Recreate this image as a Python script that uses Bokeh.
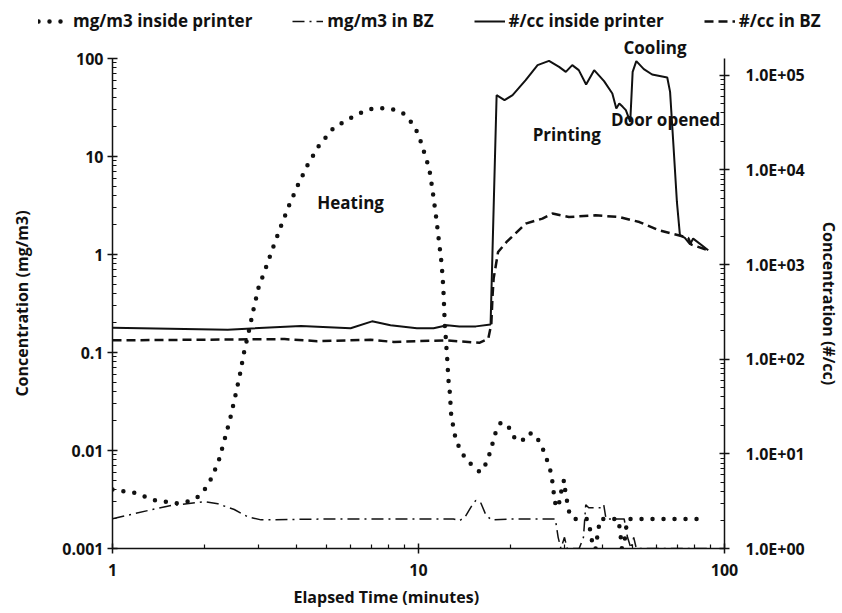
from bokeh.plotting import figure
from bokeh.layouts import column
from bokeh.models import (LogAxis, Range1d, LogScale, FixedTicker, CustomJSTickFormatter,
                          Legend, LegendItem, Label, Title)
from bokeh.embed import file_html
from bokeh.resources import INLINE

# ---------------- data ----------------
# mg/m3 inside printer (left axis)
t_mass_in = [1.0, 1.18, 1.38, 1.62, 1.75, 1.89, 2.0, 2.09, 2.16, 2.23, 2.33, 2.43, 2.52, 2.61,
             2.69, 2.79, 2.89, 3.0, 3.18, 3.36, 3.56, 3.78, 4.04, 4.35, 4.73, 5.25, 5.63, 6.05,
             6.52, 7.05, 7.66, 8.31, 8.94, 9.47, 9.88, 10.19, 10.45, 10.71, 10.92, 11.18, 11.43,
             11.65, 11.88, 11.96, 12.03, 12.08, 12.12, 12.16, 12.2, 12.29, 12.35, 12.43, 12.48,
             12.55, 12.67, 12.73, 12.8, 13.0, 13.2, 13.6, 14.2, 15.0, 15.9, 16.6, 17.1, 17.5,
             17.9, 18.6, 19.7, 20.5, 21.7, 22.8, 24.0, 25.1, 25.9, 26.6, 27.2, 27.5, 27.9, 28.3,
             28.9, 29.5, 29.9, 30.2, 30.6, 31.0, 32.0, 34.0, 35.5, 36.5, 37.2, 37.9, 38.5, 39.2,
             42.0, 44.8, 45.5, 46.2, 47.0, 47.8, 48.5, 55.0, 65.0, 75.0, 87.5]
mass_in = [0.0040, 0.0037, 0.0031, 0.0029, 0.0030, 0.0033, 0.0040, 0.0050, 0.0063, 0.0081,
           0.0133, 0.0218, 0.036, 0.060, 0.100, 0.165, 0.276, 0.457, 0.75, 1.22, 1.98, 3.19,
           5.14, 8.3, 12.9, 19.2, 22.1, 25.0, 28.1, 30.7, 31.1, 30.2, 27.3, 22.4, 18.0, 14.0,
           10.9, 8.5, 6.6, 3.94, 2.35, 1.41, 0.84, 0.65, 0.50, 0.39, 0.30, 0.23, 0.178, 0.138,
           0.107, 0.081, 0.064, 0.049, 0.038, 0.029, 0.022, 0.0174, 0.0135, 0.0106, 0.0084,
           0.0070, 0.0060, 0.0073, 0.0094, 0.0121, 0.0156, 0.0194, 0.0174, 0.0137, 0.0123,
           0.0151, 0.0147, 0.0116, 0.0092, 0.0072, 0.0057, 0.0043, 0.0030, 0.0026, 0.0030,
           0.0044, 0.0050, 0.0038, 0.0030, 0.0024, 0.0020, 0.0020, 0.0020, 0.0015, 0.0010,
           0.0010, 0.0014, 0.0020, 0.0020, 0.0020, 0.0016, 0.0010, 0.0011, 0.0017, 0.0020,
           0.0020, 0.0020, 0.0020, 0.0020]

# mg/m3 in BZ (left axis)
t_mass_bz = [1.0, 1.38, 1.56, 2.0, 2.21, 2.5, 2.77, 3.06, 5.0, 8.0, 11.0, 13.0, 13.6, 14.2,
             15.0, 15.4, 16.0, 16.6, 17.3, 20.0, 25.0, 28.0, 28.6, 29.2, 30.0, 30.6, 33.5, 34.6,
             35.2, 36.0, 39.5, 40.3, 41.0, 44.0, 47.0, 48.2, 49.5, 50.5, 51.5, 60.0, 70.0, 88.0]
mass_bz = [0.00201, 0.00254, 0.00275, 0.0030, 0.00286, 0.0025, 0.0021, 0.00196, 0.0020, 0.0020,
           0.0020, 0.0020, 0.00192, 0.0021, 0.0028, 0.0031, 0.0029, 0.0022, 0.00196, 0.0020,
           0.0020, 0.0020, 0.0013, 0.0010, 0.0013, 0.0010, 0.0010, 0.0013, 0.0028, 0.0026,
           0.0026, 0.0028, 0.0020, 0.0020, 0.0020, 0.0013, 0.0010, 0.0013, 0.0010, 0.0010,
           0.0010, 0.0010]

# #/cc inside printer (right axis)
t_num_in = [1.0, 2.38, 4.13, 6.0, 7.05, 8.1, 9.88, 11.2, 12.4, 13.6, 15.4, 17.2, 18.0, 19.1,
            20.3, 22.4, 24.5, 26.7, 28.8, 30.3, 31.8, 33.4, 35.3, 37.5, 40.4, 43.0, 44.3, 45.3,
            46.5, 47.6, 49.2, 50.1, 51.5, 54.5, 58.0, 65.0, 66.4, 68.1, 69.9, 71.5, 74.2, 77.2,
            79.0, 88.5]
num_in = [215, 205, 224, 212, 251, 228, 212, 212, 228, 222, 222, 232, 61500, 54400, 61500,
          88500, 127600, 141700, 122500, 108400, 127600, 113000, 79800, 113000, 86500, 64100,
          44500, 50200, 46300, 42700, 32100, 108400, 140600, 115700, 101600, 94600, 66700,
          18200, 4580, 2040, 1906, 1634, 1878, 1413]

# #/cc in BZ (right axis)
t_num_bz = [1.0, 3.65, 4.67, 6.97, 8.3, 9.87, 12.3, 15.8, 16.9, 17.3, 17.45, 17.6, 18.2, 19.4,
            22.4, 25.4, 27.4, 31.0, 37.9, 45.2, 52.7, 60.9, 70.7, 76.1, 77.9, 88.5]
num_bz = [158, 163, 155, 160, 152, 155, 158, 149, 164, 237, 454, 710, 1355, 1730, 2700, 3055,
          3450, 3175, 3310, 3175, 2810, 2300, 2040, 1906, 1620, 1413]

x_major = [1, 10, 100]
y_left_major = [0.001, 0.01, 0.1, 1, 10, 100]
y_right_major = [1, 10, 100, 1000, 10000, 100000]
series_labels = ["mg/m3 inside printer", "mg/m3 in BZ", "#/cc inside printer", "#/cc in BZ"]

FONT = "Open Sans"
INK = "#111111"
TOP_H = 33

STYLES = [dict(line_width=4.5, line_dash="0 11", line_cap="round"),
          dict(line_width=1.5, line_dash="12 5 2 5"),
          dict(line_width=2),
          dict(line_width=2.5, line_dash="9 5")]

series = [(t_mass_in, mass_in, "default"), (t_mass_bz, mass_bz, "default"),
          (t_num_in, num_in, "cc"), (t_num_bz, num_bz, "cc")]

# ---------------- legend strip (top) ----------------
# The same series are drawn here far outside the visible window, only so the
# legend can show their line styles.
top = figure(width=842, height=TOP_H, x_range=Range1d(0, 842),
             y_range=Range1d(-1e7, -1e7 + TOP_H),
             output_backend="svg", toolbar_location=None,
             x_axis_location=None, y_axis_location=None,
             min_border_left=0, min_border_right=0, min_border_top=0, min_border_bottom=0)
top.frame_align = False
top.grid.visible = False
top.outline_line_color = None
legend_renderers = [top.line(tx, vy, line_color=INK, **st) for (tx, vy, _), st in zip(series, STYLES)]
legend = Legend(items=[LegendItem(label=lab, renderers=[r])
                       for lab, r in zip(series_labels, legend_renderers)],
                orientation="horizontal", location=(38, 1),
                glyph_width=31, glyph_height=20, label_standoff=4, spacing=40,
                padding=0, margin=0, border_line_alpha=0, background_fill_alpha=0,
                label_text_font=FONT, label_text_font_style="bold",
                label_text_font_size="17px", label_text_color=INK)
top.add_layout(legend)

# ---------------- main chart ----------------
p = figure(width=842, height=613 - TOP_H, x_axis_type="log", y_axis_type="log",
           x_range=Range1d(1, 100), y_range=Range1d(0.001, 100),
           output_backend="svg", toolbar_location=None,
           min_border_left=112, min_border_right=114, min_border_top=25, min_border_bottom=65)
p.frame_align = False
p.extra_y_ranges = {"cc": Range1d(1, 150000)}
p.extra_y_scales = {"cc": LogScale()}
p.grid.visible = False
p.outline_line_color = None

right = LogAxis(y_range_name="cc")
p.add_layout(right, "right")

p.xaxis.ticker = FixedTicker(ticks=x_major,
                             minor_ticks=[m * 10 ** e for e in range(0, 2) for m in range(2, 10)])
p.yaxis[0].ticker = FixedTicker(ticks=y_left_major,
                                minor_ticks=[m * 10.0 ** e for e in range(-3, 2) for m in range(2, 10)])
right.ticker = FixedTicker(ticks=y_right_major,
                           minor_ticks=[m * 10 ** e for e in range(0, 6) for m in range(2, 10)])

plain = CustomJSTickFormatter(code="""
if (tick >= 1) { return tick.toFixed(0); }
const d = Math.round(-Math.log10(tick));
return tick.toFixed(d);
""")
sci = CustomJSTickFormatter(code="""
const e = Math.round(Math.log10(tick));
return "1.0E+" + (e < 10 ? "0" : "") + e;
""")
p.xaxis.formatter = plain
p.yaxis[0].formatter = plain
right.formatter = sci

for ax in [p.xaxis[0], p.yaxis[0], right]:
    ax.axis_line_color = INK
    ax.axis_line_width = 1.5
    ax.major_tick_line_color = INK
    ax.major_tick_line_width = 1.5
    ax.minor_tick_line_color = INK
    ax.minor_tick_line_width = 1.2
    ax.major_tick_in = 5
    ax.major_tick_out = 5
    ax.minor_tick_in = 4
    ax.minor_tick_out = 0
    ax.major_label_text_font = FONT
    ax.major_label_text_font_style = "bold"
    ax.major_label_text_font_size = "16px"
    ax.major_label_text_color = INK
    ax.axis_label_text_font = FONT
    ax.axis_label_text_font_style = "bold"
    ax.axis_label_text_font_size = "16px"
    ax.axis_label_text_color = INK

p.xaxis.major_label_standoff = 10
p.yaxis[0].major_label_standoff = 4
right.major_label_standoff = 16
p.yaxis[0].axis_label = "Concentration (mg/m3)"
p.yaxis[0].axis_label_standoff = 26
right.axis_label = "Concentration (#/cc)"
right.axis_label_standoff = 10

p.add_layout(Title(text="Elapsed Time (minutes)", align="left", offset=181,
                   text_font=FONT, text_font_style="bold", text_font_size="16px",
                   text_color=INK), "below")
# "Cooling" sits just above the frame
p.add_layout(Title(text="Cooling", align="left", offset=511, standoff=0,
                   text_font=FONT, text_font_style="bold", text_font_size="17px",
                   text_color=INK), "above")

for (tx, vy, rng), st in reversed(list(zip(series, STYLES))):
    p.line(tx, vy, y_range_name=rng, line_color=INK, **st)

for txt, tx, ty, align in [("Heating", 6.0, 3.4, "center"), ("Printing", 30.5, 16.7, "center"),
                           ("Door opened", 42.6, 23.9, "left")]:
    p.add_layout(Label(x=tx, y=ty, text=txt, text_align=align, text_baseline="middle",
                       text_font=FONT, text_font_style="bold", text_font_size="17px",
                       text_color=INK))

layout = column(top, p, spacing=0)
open("out.html", "w").write(file_html(layout, INLINE))
